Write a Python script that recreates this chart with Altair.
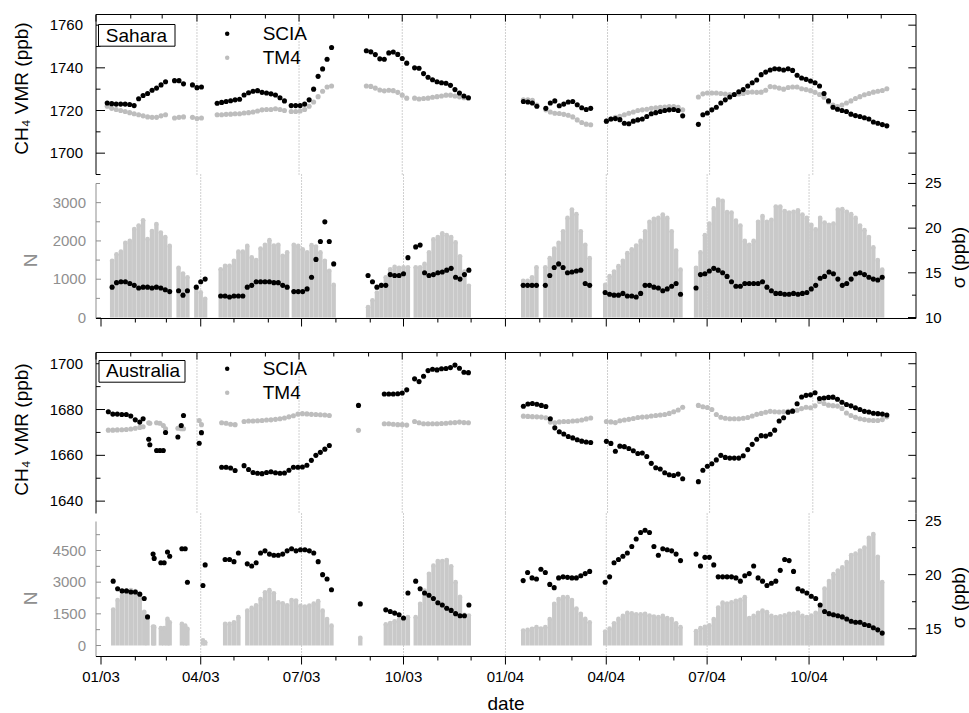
import altair as alt
import pandas as pd

# ---------------- values ----------------
STEP_DAYS = 4  # spacing (days) between consecutive samples inside one run of data

# Sahara: start date of every run, then one list per run for each series
sahara_start = ["2003-01-11", "2003-03-12", "2003-03-28", "2003-04-19", "2003-05-13",
                "2003-06-24", "2003-08-30", "2003-10-12", "2004-01-17", "2004-02-06",
                "2004-03-31", "2004-06-21"]
sahara_scia = [
    [1723.5, 1723.2, 1723, 1723, 1723, 1722.8, 1722.3, 1725.5, 1727, 1728, 1729.5, 1730.5, 1732, 1733.5],
    [1734, 1734, 1732.5],
    [1732, 1730.7, 1731],
    [1723.4, 1723.8, 1724.2, 1724.6, 1725, 1725.3],
    [1727.3, 1728.3, 1729, 1729.3, 1728.5, 1728.2, 1727.8, 1727.3, 1726, 1724.5],
    [1722.3, 1722.3, 1722.3, 1723, 1725, 1730, 1736, 1739.5, 1744, 1749.5],
    [1748, 1747.5, 1746.2, 1744.2, 1744, 1747, 1747.4, 1746.3, 1744.4, 1742.2],
    [1740, 1739.8, 1737.3, 1735.6, 1734.4, 1733.5, 1733, 1732.8, 1731.8, 1729.8, 1728.2, 1726.8, 1726],
    [1724.2, 1724, 1723.5, 1722],
    [1721, 1723.5, 1724.5, 1722.2, 1723, 1724, 1724.2, 1722.7, 1721.3, 1720.5, 1721],
    [1715, 1716, 1716.2, 1715.7, 1714, 1713.8, 1715, 1715.6, 1716, 1717.2, 1718.5, 1719, 1719.5,
     1720, 1720.3, 1720.5, 1720, 1717.5],
    [1713.5, 1718, 1718.8, 1720.3, 1721.5, 1723.5, 1725, 1726.3, 1727.5, 1728.8, 1729.8, 1731.5,
     1733, 1734.3, 1736.8, 1738, 1739, 1739.6, 1739.4, 1739, 1739.6, 1738.8, 1736.5, 1735.2,
     1734.6, 1733.8, 1733, 1731.5, 1728, 1724.5, 1721.5, 1720.6, 1720, 1719.5, 1718.3, 1717.6,
     1717.2, 1716.6, 1716, 1714.6, 1714, 1713.4, 1712.8],
]
sahara_tm4 = [
    [1722, 1721, 1720.5, 1720, 1719.5, 1719, 1718.5, 1718, 1717.5, 1717, 1716.8, 1716.8, 1717.5, 1718],
    [1716.5, 1716.8, 1717],
    [1716.8, 1716.2, 1716.5],
    [1718, 1718, 1718.2, 1718.3, 1718.5, 1718.5],
    [1718.8, 1719, 1719.3, 1719.8, 1720.3, 1720.5, 1720.5, 1720.8, 1720.5, 1720],
    [1719.5, 1719.5, 1719.8, 1720.5, 1722, 1724, 1726.5, 1729, 1731, 1731.5],
    [1731.5, 1731.3, 1730.5, 1729.6, 1729.2, 1729.5, 1729.3, 1728.5, 1727.2, 1725.8],
    [1725.8, 1725.4, 1725.6, 1725.8, 1726.2, 1726.5, 1726.8, 1727.2, 1727.2, 1726.8, 1726.4, 1726, 1725.8],
    [1725, 1725, 1724.8, 1722.5],
    [1720.3, 1719.3, 1718.7, 1718.6, 1718.2, 1717.8, 1717, 1715.6, 1714.4, 1713.6, 1713.3],
    [1715, 1716, 1716.8, 1717.3, 1718, 1718.7, 1719.3, 1720, 1720.3, 1720.6, 1721, 1721.3, 1721.5,
     1721.6, 1721.8, 1721.8, 1721.5, 1720.3],
    [1726.3, 1727.8, 1728.2, 1728.2, 1728.2, 1728, 1727.7, 1727.5, 1727.5, 1727.7, 1728, 1728.5,
     1728.7, 1728.5, 1728.6, 1729.5, 1731.2, 1731, 1730.5, 1730, 1730.8, 1731, 1731, 1730.2,
     1729.8, 1729.3, 1728.5, 1727.5, 1726.2, 1724, 1722.5, 1721.8, 1722.6, 1723.5, 1724.5, 1725.6,
     1726.5, 1727.4, 1728, 1728.6, 1729, 1729.4, 1730.2],
]
sahara_n = [
    [1480, 1650, 1720, 1950, 2000, 2310, 2400, 2540, 2050, 2260, 2440, 2220, 2100, 1870],
    [1300, 1150, 1050],
    [790, 660, 490],
    [1260, 1350, 1350, 1480, 1720, 1720],
    [1870, 1570, 1500, 1800, 1900, 2020, 1880, 1900, 1610, 1700],
    [1900, 1870, 1780, 1700, 1890, 1850, 1700, 1480, 1220, 850],
    [270, 450, 650, 850, 1050, 1260, 1320, 1300, 1310, 1310],
    [1310, 1310, 1400, 1700, 2040, 2100, 2200, 2150, 2100, 1960, 1600, 1200, 830],
    [960, 960, 1050, 1310],
    [1310, 1550, 1800, 1950, 2250, 2600, 2820, 2700, 2250, 1900, 1550],
    [850, 1080, 1200, 1340, 1480, 1680, 1780, 1880, 2000, 2250, 2500, 2580, 2600, 2690, 2600,
     2250, 1750, 1250],
    [1300, 1700, 2150, 2450, 2850, 3080, 3050, 2750, 2740, 2530, 2400, 2000, 1900, 2000, 2500,
     2650, 2500, 2550, 2900, 2900, 2780, 2740, 2760, 2800, 2690, 2600, 2420, 2300, 2600, 2480,
     2420, 2450, 2820, 2830, 2760, 2700, 2600, 2400, 2280, 2100, 1830, 1500, 1250],
]
sahara_sigma = [
    [13.4, 13.9, 14.0, 14.0, 13.8, 13.6, 13.3, 13.4, 13.4, 13.3, 13.4, 13.3, 13.1, 12.9],
    [13.0, 12.5, 13.0],
    [13.4, 14.0, 14.3],
    [12.4, 12.4, 12.3, 12.4, 12.4, 12.4],
    [13.4, 13.6, 14.0, 14.0, 14.0, 14.0, 13.9, 13.9, 13.6, 13.4],
    [12.9, 12.9, 12.9, 13.2, 14.5, 16.5, 18.5, 20.7, 18.5, 16.0],
    [14.7, 14.0, 13.4, 13.6, 13.6, 14.8, 14.7, 14.7, 14.9, 16.7],
    [17.9, 18.1, 15.0, 14.7, 14.8, 15.0, 15.1, 15.3, 15.5, 14.5, 14.3, 14.8, 15.3],
    [13.6, 13.6, 13.6, 13.6],
    [13.6, 14.7, 15.6, 16.0, 15.6, 15.0, 15.1, 15.2, 15.3, 13.8, 13.6],
    [12.8, 12.6, 12.5, 12.5, 12.7, 12.4, 12.4, 12.3, 12.7, 13.6, 13.6, 13.4, 13.3, 13.0, 13.2,
     13.5, 13.8, 12.6],
    [13.3, 14.8, 14.9, 15.2, 15.5, 15.3, 15.0, 14.6, 14.0, 13.5, 13.5, 13.8, 13.8, 13.8, 13.8,
     14.0, 13.4, 13.0, 12.7, 12.7, 12.6, 12.6, 12.7, 12.6, 12.7, 12.8, 13.2, 13.6, 14.4, 14.6,
     15.1, 14.9, 14.3, 13.6, 13.8, 14.3, 14.9, 15.0, 14.8, 14.5, 14.3, 14.2, 14.5],
]

# Australia
aus_start = ["2003-01-12", "2003-02-12", "2003-02-17", "2003-02-18", "2003-02-24", "2003-02-27",
             "2003-03-02", "2003-03-04", "2003-03-15", "2003-03-18", "2003-03-20", "2003-04-03",
             "2003-04-05", "2003-04-23", "2003-05-13", "2003-08-23", "2003-09-15", "2003-10-12",
             "2004-01-17", "2004-03-31", "2004-06-21"]
aus_scia = [
    [1679, 1678, 1678, 1677.8, 1677.8, 1677.2, 1675.5, 1674.5],
    [1676], [1667], [1664.6], [1662.1], [1662.1], [1662.1], [1670], [1668], [1673], [1677.4],
    [1665.3], [1669.9],
    [1654.8, 1654.8, 1654.5, 1653.4],
    [1655.5, 1653.8, 1652.5, 1652.2, 1652, 1652.5, 1652.8, 1652.4, 1652.2, 1652.3, 1653.5, 1654.8,
     1654.8, 1654.9, 1655.7, 1657.8, 1660, 1661.3, 1662.7, 1664.3],
    [1681.8],
    [1686.8, 1686.8, 1686.8, 1686.9, 1687.2, 1688.6],
    [1693.4, 1692.2, 1694.5, 1697, 1697.6, 1697.3, 1697.8, 1697.9, 1698.3, 1699.4, 1698, 1696.3, 1696.1],
    [1681.4, 1682.4, 1682.6, 1682.3, 1681.8, 1681.3, 1676, 1672, 1670.3, 1669.3, 1668.2, 1667.6,
     1666.8, 1666.2, 1665.8, 1665.6],
    [1666.1, 1665.2, 1661.8, 1664, 1663.8, 1663, 1662, 1660.8, 1661, 1659.5, 1656.5, 1654.6, 1654,
     1652.4, 1651.5, 1651.2, 1651.8, 1649.8],
    [1648.5, 1653.5, 1655.2, 1656.3, 1658, 1660, 1659.1, 1658.8, 1658.8, 1658.8, 1659.8, 1662.5,
     1664.8, 1667, 1668.6, 1668.4, 1669.2, 1671, 1675, 1676.4, 1678.8, 1679.3, 1682.5, 1685.5,
     1686.2, 1686.4, 1687.3, 1684.8, 1685, 1685.3, 1685.4, 1684.5, 1683.2, 1682.2, 1681.6, 1680.8,
     1680, 1679.2, 1678.9, 1678.4, 1678.2, 1678, 1677.6],
]
aus_tm4 = [
    [1671, 1671, 1671.1, 1671.2, 1671.3, 1671.5, 1671.8, 1672.2],
    [1672.5], [1674.2], [1674], [1674.2], [1674], [1673], [1671.6], [1671.8], [1671.6], [1671.6],
    [1675.2], [1673.4],
    [1674.2, 1674, 1673.6, 1673.4],
    [1674.8, 1675, 1675, 1675.1, 1675.2, 1675.4, 1675.5, 1675.7, 1676, 1676.3, 1676.8, 1677.3,
     1678, 1678.2, 1678.1, 1677.9, 1677.8, 1677.7, 1677.6, 1677.4],
    [1670.9],
    [1673.8, 1673.8, 1673.6, 1673.4, 1673.4, 1673.2],
    [1674.8, 1674.2, 1673.8, 1673.8, 1673.8, 1673.8, 1673.9, 1674, 1674.2, 1674.3, 1674.5, 1674.3, 1674.2],
    [1677.1, 1677, 1676.9, 1676.8, 1676.7, 1676.4, 1674.5, 1674.2, 1674.6, 1674.8, 1674.8, 1675,
     1675.1, 1675.4, 1675.9, 1676.3],
    [1674.8, 1674.6, 1674.3, 1675.1, 1675.4, 1675.7, 1676.1, 1676.5, 1676.7, 1676.8, 1677.2,
     1677.4, 1677.6, 1677.8, 1678.3, 1679, 1679.8, 1681],
    [1681.8, 1681.2, 1680.9, 1680, 1677.8, 1676.6, 1676.2, 1676, 1676, 1676, 1676.2, 1676.5,
     1677.2, 1677.9, 1678.3, 1678.8, 1679.2, 1679, 1678.9, 1679, 1679.2, 1679.4, 1679.7, 1680.4,
     1681, 1680.8, 1681.6, 1683.5, 1682.6, 1681.9, 1681.7, 1681.5, 1680.5, 1678.5, 1677.4, 1676.6,
     1676, 1675.6, 1675.3, 1675.2, 1675.2, 1675.6, 1676.8],
]
aus_n = [
    [1700, 2150, 2350, 2550, 2620, 2580, 2300, 1600],
    [1300], [900], [880], [820], [820], [1260], [1100], [1020], [940], [790], [240], [150],
    [1020, 1020, 1100, 1340],
    [1650, 1780, 1900, 2200, 2520, 2620, 2470, 2050, 2000, 1900, 2150, 2130, 1880, 1840, 1890,
     1980, 2100, 1650, 1250, 940],
    [365],
    [1000, 1060, 1150, 1230, 1260, 1340],
    [1340, 1970, 2600, 3400, 3780, 4000, 4000, 4050, 3750, 3000, 2300, 1450, 1420],
    [710, 740, 790, 870, 800, 870, 1250, 1970, 2200, 2290, 2290, 2150, 1750, 1500, 1260, 1100],
    [660, 800, 1050, 1260, 1400, 1550, 1520, 1480, 1480, 1500, 1420, 1370, 1340, 1400, 1300, 1250,
     1050, 870],
    [680, 820, 880, 950, 1250, 1800, 2030, 1980, 2050, 2120, 2160, 2290, 1300, 1400, 1550, 1650,
     1580, 1400, 1350, 1380, 1430, 1500, 1500, 1560, 1400, 1340, 1420, 1550, 1800, 2700, 3050,
     3380, 3550, 3700, 3950, 4280, 4350, 4500, 4640, 5100, 5280, 4200, 3000],
]
aus_sigma = [
    [19.4, 18.7, 18.5, 18.5, 18.4, 18.4, 18.2, 17.8],
    [16.1], [21.9], [21.5], [21.1], [21.1], [22.1], [21.7], [22.4], [22.4], [19.3], [19.0], [20.9],
    [21.4, 21.4, 21.2, 22.0],
    [21.0, 20.8, 21.1, 22.0, 22.2, 21.9, 21.8, 21.8, 21.9, 22.2, 22.4, 22.2, 22.3, 22.3, 22.2,
     22.0, 21.2, 20.0, 19.6, 18.6],
    [17.3],
    [16.75, 16.6, 16.45, 16.3, 16.0, 18.3],
    [19.4, 18.7, 18.3, 18.1, 17.8, 17.4, 17.2, 16.9, 16.7, 16.4, 16.2, 16.2, 17.2],
    [19.45, 20.2, 19.7, 19.6, 20.5, 20.2, 19.1, 18.8, 19.7, 19.8, 19.75, 19.7, 19.7, 19.9, 20.1, 20.3],
    [19.3, 19.8, 21.1, 21.4, 21.7, 22.0, 22.6, 23.3, 23.9, 24.1, 23.9, 22.6, 21.8, 22.4, 22.3,
     22.2, 21.9, 21.3],
    [21.9, 20.8, 21.6, 21.6, 20.9, 19.8, 19.8, 19.8, 19.8, 19.7, 19.4, 19.9, 20.1, 20.8, 19.7,
     19.4, 19.0, 19.2, 19.4, 20.4, 21.4, 21.3, 20.3, 18.7, 18.5, 18.3, 18.0, 17.8, 17.2, 16.6,
     16.4, 16.3, 16.2, 16.1, 15.9, 15.7, 15.6, 15.6, 15.4, 15.3, 15.1, 14.9, 14.6],
]

# axis ticks / labels
vmr1_major = [1700, 1720, 1740, 1760]
vmr1_minor = [1690, 1710, 1730, 1750]
vmr2_major = [1640, 1660, 1680, 1700]
vmr2_minor = [1650, 1670, 1690]
n1_major = [0, 1000, 2000, 3000]
n1_minor = [500, 1500, 2500, 3500]
n2_major = [0, 1500, 3000, 4500]
n2_minor = [750, 2250, 3750, 5250]
s1_major = [10, 15, 20, 25]
s2_major = [15, 20, 25]
s_minor = [12.5, 17.5, 22.5]

# ---------------- build tables ----------------
def build(starts, scia, tm4, n, sigma):
    tm_rows, sc_rows, ns_rows = [], [], []
    for s, a, b, c, d in zip(starts, scia, tm4, n, sigma):
        k = min(len(a), len(b), len(c), len(d))
        dates = pd.date_range(s, periods=k, freq=f"{STEP_DAYS}D")
        for i in range(k):
            ds = dates[i].strftime("%Y-%m-%d")
            tm_rows.append({"date": ds, "value": b[i], "series": "TM4"})
            sc_rows.append({"date": ds, "value": a[i], "series": "SCIA"})
            ns_rows.append({"date": ds, "n": c[i], "sigma": d[i]})
    return pd.DataFrame(tm_rows + sc_rows), pd.DataFrame(ns_rows)

sahara_vmr, sahara_ns = build(sahara_start, sahara_scia, sahara_tm4, sahara_n, sahara_sigma)
aus_vmr, aus_ns = build(aus_start, aus_scia, aus_tm4, aus_n, aus_sigma)

# ---------------- style ----------------
FONT = "Liberation Sans"
BLACK = "#000000"
TM4C = "#bdbdbd"
BARC = "#c9c9c9"
NGRAY = "#8f8f8f"
GRIDC = "#a0a0a0"
W = 820
DOT = 26
LBL = 15     # tick label size
TTL = 19     # axis title size
TXT = 19     # in-plot texts (region name, legend)


def ms(s):
    return int(pd.Timestamp(s).value // 10**6)


XS = alt.Scale(type="utc", domain=[ms("2003-01-01"), ms("2005-01-01")], nice=False)
months = pd.date_range("2003-01-01", "2004-12-01", freq="MS")
quarters = [m for m in months if m.month in (1, 4, 7, 10)]
minors = [m for m in months if m.month not in (1, 4, 7, 10)]
q_df = pd.DataFrame({"d": [m.strftime("%Y-%m-%d") for m in quarters],
                     "t": [m.strftime("%m/%y") for m in quarters]})
m_df = pd.DataFrame({"d": [m.strftime("%Y-%m-%d") for m in minors]})
g_df = q_df.iloc[1:].reset_index(drop=True)
one = pd.DataFrame({"k": [0]})


def xenc(field):
    return alt.X(f"{field}:T", scale=XS, axis=None)


def grid_layer():
    return alt.Chart(g_df).mark_rule(color=GRIDC, strokeDash=[1, 2], strokeWidth=1).encode(x=xenc("d"))


def yticks(values, scale, x0, x1, color=BLACK):
    return alt.Chart(pd.DataFrame({"v": values})).mark_rule(color=color, strokeWidth=1).encode(
        y=alt.Y("v:Q", scale=scale, axis=None), x=alt.value(x0), x2=alt.value(x1))


def ylabels(values, scale, x, align, color=BLACK):
    df = pd.DataFrame({"v": values, "t": [f"{v:g}" for v in values]})
    return alt.Chart(df).mark_text(align=align, baseline="middle", font=FONT, fontSize=LBL,
                                   color=color).encode(
        y=alt.Y("v:Q", scale=scale, axis=None), x=alt.value(x), text="t:N")


def xticks(df, y0, y1):
    return alt.Chart(df).mark_rule(color=BLACK, strokeWidth=1).encode(
        x=xenc("d"), y=alt.value(y0), y2=alt.value(y1))


def vline(x, y0, y1, color=BLACK):
    return alt.Chart(one).mark_rule(color=color, strokeWidth=1).encode(
        x=alt.value(x), y=alt.value(y0), y2=alt.value(y1))


def hline(y, x0, x1, color=BLACK):
    return alt.Chart(one).mark_rule(color=color, strokeWidth=1).encode(
        y=alt.value(y), x=alt.value(x0), x2=alt.value(x1))


def vtitle(text, x, y, color=BLACK):
    return alt.Chart(one).mark_text(text=text, angle=270, align="center", baseline="middle",
                                    font=FONT, fontSize=TTL, color=color).encode(
        x=alt.value(x), y=alt.value(y))


def vmr_panel(df, ydom, major, minor, region, box, text_xy, legend_xy, H, title_y):
    ys = alt.Scale(domain=ydom, nice=False, zero=False)
    pts = alt.Chart(df).mark_circle(size=DOT, opacity=1).encode(
        x=xenc("date"),
        y=alt.Y("value:Q", scale=ys, axis=None),
        color=alt.Color("series:N", title=None,
                        scale=alt.Scale(domain=["SCIA", "TM4"], range=[BLACK, TM4C]),
                        legend=alt.Legend(orient="none", legendX=legend_xy[0], legendY=legend_xy[1],
                                          direction="vertical", padding=0, rowPadding=4,
                                          symbolType="circle", symbolSize=20, symbolStrokeWidth=0,
                                          labelFontSize=TXT, labelFont=FONT, labelOffset=26,
                                          labelColor=BLACK)),
    )
    rect = alt.Chart(one).mark_rect(fill="white", stroke=BLACK, strokeWidth=1).encode(
        x=alt.value(box[0]), x2=alt.value(box[1]), y=alt.value(box[2]), y2=alt.value(box[3]))
    label = alt.Chart(one).mark_text(text=region, font=FONT, fontSize=TXT, color=BLACK,
                                     align="center", baseline="middle").encode(
        x=alt.value(text_xy[0]), y=alt.value(text_xy[1]))
    return alt.layer(
        grid_layer(), pts,
        hline(0, 0, W), vline(0, 0, H), vline(W, 0, H),
        xticks(q_df, 0, 7), xticks(m_df, 0, 4),
        yticks(major, ys, 0, 9), yticks(minor, ys, 0, 4.5),
        yticks(major, ys, W - 7.7, W), yticks(minor, ys, W - 4.3, W),
        ylabels(major, ys, -13, "right"),
        vtitle("CH₄ VMR (ppb)", -74.5, title_y),
        rect, label,
    ).properties(width=W, height=H)


def ns_panel(df, ndom, ntop, nmaj, nmin, sdom, smaj, smin, H, with_dates, n_title_y, s_title_y):
    ns = alt.Scale(domain=ndom, nice=False, zero=False)
    ss = alt.Scale(domain=sdom, nice=False, zero=False)
    bars = alt.Chart(df).mark_bar(size=4.3, color=BARC).encode(
        x=xenc("date"), y=alt.Y("n:Q", scale=ns, axis=None), y2=alt.datum(0))
    caps = alt.Chart(df).mark_circle(size=22, color=BARC, opacity=1).encode(
        x=xenc("date"), y=alt.Y("n:Q", scale=ns, axis=None))
    nline = alt.Chart(pd.DataFrame({"a": [ndom[0]], "b": [ntop]})).mark_rule(color=NGRAY).encode(
        x=alt.value(0), y=alt.Y("a:Q", scale=ns, axis=None), y2=alt.Y2("b"))
    n_layer = alt.layer(bars, caps, nline,
                        yticks(nmaj, ns, 0, 5, NGRAY), yticks(nmin, ns, 0, 4, NGRAY),
                        ylabels(nmaj, ns, -10, "right", NGRAY))

    spts = alt.Chart(df).mark_circle(size=DOT, color=BLACK, opacity=1).encode(
        x=xenc("date"), y=alt.Y("sigma:Q", scale=ss, axis=None))
    s_layer = alt.layer(spts, yticks(smaj, ss, W - 8, W), yticks(smin, ss, W - 4, W),
                        ylabels(smaj, ss, W + 9, "left"))

    layers = [grid_layer(), n_layer, s_layer,
              hline(H, 0, W), vline(W, 0, H),
              xticks(q_df, H, H + 8), xticks(m_df, H, H + 4),
              vtitle("N", -65, n_title_y, NGRAY), vtitle("σ (ppb)", W + 43, s_title_y)]
    if with_dates:
        layers.append(alt.Chart(q_df).mark_text(align="center", baseline="middle", font=FONT,
                                                fontSize=LBL, color=BLACK).encode(
            x=xenc("d"), y=alt.value(H + 20), text="t:N"))
        layers.append(alt.Chart(one).mark_text(text="date", align="center", baseline="middle",
                                               font=FONT, fontSize=TTL, color=BLACK).encode(
            x=alt.value(W / 2), y=alt.value(H + 47)))
    return alt.layer(*layers).resolve_scale(y="independent").properties(width=W, height=H)


p1 = vmr_panel(sahara_vmr, [1690, 1765], vmr1_major, vmr1_minor, "Sahara",
               (2.5, 79, 10, 31.7), (40.5, 21), (121.7, 9.8), 160, 74)
p2 = ns_panel(sahara_ns, [-26, 3735], 3500, n1_major, n1_minor, [9.89, 26.0], s1_major, s_minor,
              144, False, 86, 83)
spacer = alt.Chart(one).mark_point(opacity=0, size=1).encode(
    x=alt.value(W / 2), y=alt.value(17)).properties(width=W, height=34)
p3 = vmr_panel(aus_vmr, [1634.6, 1704.9], vmr2_major, vmr2_minor, "Australia",
               (3, 89, 8, 29.7), (47, 18.8), (121.7, 6.8), 161, 77)
p4 = ns_panel(aus_ns, [-521, 6253], 5874, n2_major, n2_minor, [12.44, 25.65], s2_major, s_minor,
              143, True, 85, 84)

chart = alt.vconcat(p1, p2, spacer, p3, p4, spacing=0, bounds="flush").resolve_scale(
    color="independent"
).properties(
    padding={"left": 12, "top": 13.5, "right": 0, "bottom": 0},
    background="white",
).configure(font=FONT).configure_view(stroke=None)

chart.save("out.html", embed_options={"renderer": "svg", "actions": False})
